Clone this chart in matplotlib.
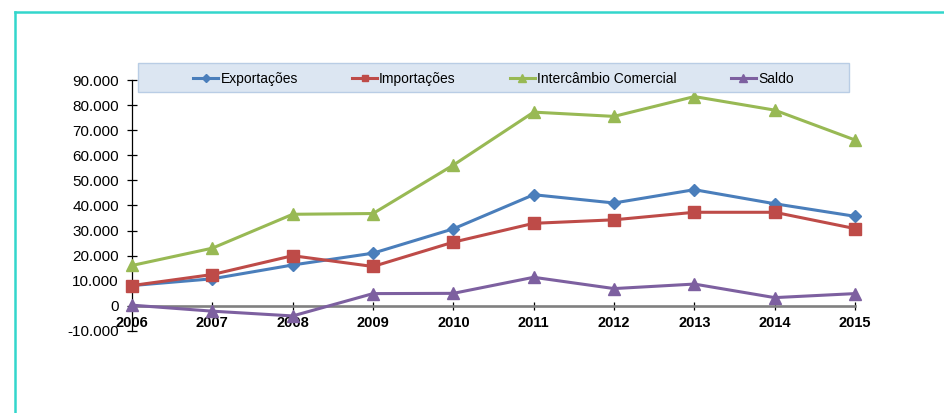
import matplotlib
matplotlib.use("Agg")
import matplotlib.pyplot as plt
from matplotlib.ticker import FuncFormatter, MultipleLocator
from matplotlib.patches import Rectangle
from matplotlib.lines import Line2D

plt.rcParams['font.family'] = ['Liberation Sans', 'DejaVu Sans']

years = [2006, 2007, 2008, 2009, 2010, 2011, 2012, 2013, 2014, 2015]
exportacoes = [8100, 10800, 16300, 21000, 30700, 44300, 41000, 46300, 40700, 35700]
importacoes = [8100, 12500, 20000, 15700, 25400, 32900, 34300, 37300, 37300, 30800]
intercambio = [16100, 23000, 36500, 36800, 56100, 77200, 75500, 83400, 78000, 66100]
saldo = [300, -2100, -4000, 4900, 5000, 11400, 6900, 8700, 3300, 4900]
labels = ["Exportações", "Importações", "Intercâmbio Comercial", "Saldo"]

W, H = 944, 413
fig = plt.figure(figsize=(W / 100, H / 100), dpi=100)
ax = fig.add_axes([132 / W, 1 - 331 / H, (855 - 132) / W, (331 - 80) / H])

series = [
    (exportacoes, '#4A7EBB', 'D', 6.5),
    (importacoes, '#BE4B48', 's', 8),
    (intercambio, '#98B954', '^', 8.5),
    (saldo, '#7D60A0', '^', 8.5),
]
for (vals, c, m, ms), lab in zip(series, labels):
    ax.plot(years, vals, color=c, marker=m, markersize=ms, linewidth=2.2,
            label=lab, clip_on=False, zorder=3)

ax.set_xlim(2006, 2015)
ax.set_ylim(-10000, 90000)
ax.yaxis.set_major_locator(MultipleLocator(10000))
ax.set_xticks(years)
ax.yaxis.set_major_formatter(FuncFormatter(lambda v, p: f"{v:,.0f}".replace(',', '.')))

for s in ['top', 'right']:
    ax.spines[s].set_visible(False)
ax.spines['bottom'].set_position(('data', 0))
ax.spines['bottom'].set_color('#808080')
ax.spines['bottom'].set_linewidth(1.9)
ax.spines['left'].set_color('black')
ax.spines['left'].set_linewidth(0.9)

ax.tick_params(axis='y', direction='inout', length=7, width=0.9, pad=6,
               labelsize=11, colors='black')
ax.tick_params(axis='x', direction='inout', length=6, width=0.9, pad=4.5,
               labelsize=10.5, colors='black')
for t in ax.get_xticklabels():
    t.set_fontweight('bold')
    t.set_family(['Liberation Sans Narrow', 'Liberation Sans', 'DejaVu Sans'])

# legend background
fig.patches.append(Rectangle((138 / W, 1 - 92 / H), 711 / W, 29 / H,
                             transform=fig.transFigure, facecolor='#DCE6F2',
                             edgecolor='#B9CDE5', linewidth=1, zorder=5))
handles = [Line2D([], [], color=c, marker=m, markersize=ms * 0.6, linewidth=2.2)
           for (vals, c, m, ms) in series]
leg = fig.legend(handles, labels, loc='center', bbox_to_anchor=((138 + 849) / 2 / W, 1 - 79 / H),
                 ncol=4, frameon=False, fontsize=10, columnspacing=3.9,
                 handlelength=1.8, handletextpad=0.15, borderaxespad=0)
leg.set_zorder(6)

# teal frame
fig.add_artist(Line2D([14.5 / W, 14.5 / W], [0, 1 - 11.5 / H], color='#33D6CC', linewidth=1.8,
                      transform=fig.transFigure))
fig.add_artist(Line2D([14.5 / W, 1], [1 - 11.5 / H, 1 - 11.5 / H], color='#33D6CC', linewidth=1.8,
                      transform=fig.transFigure))

fig.savefig('out.png', dpi=100)
